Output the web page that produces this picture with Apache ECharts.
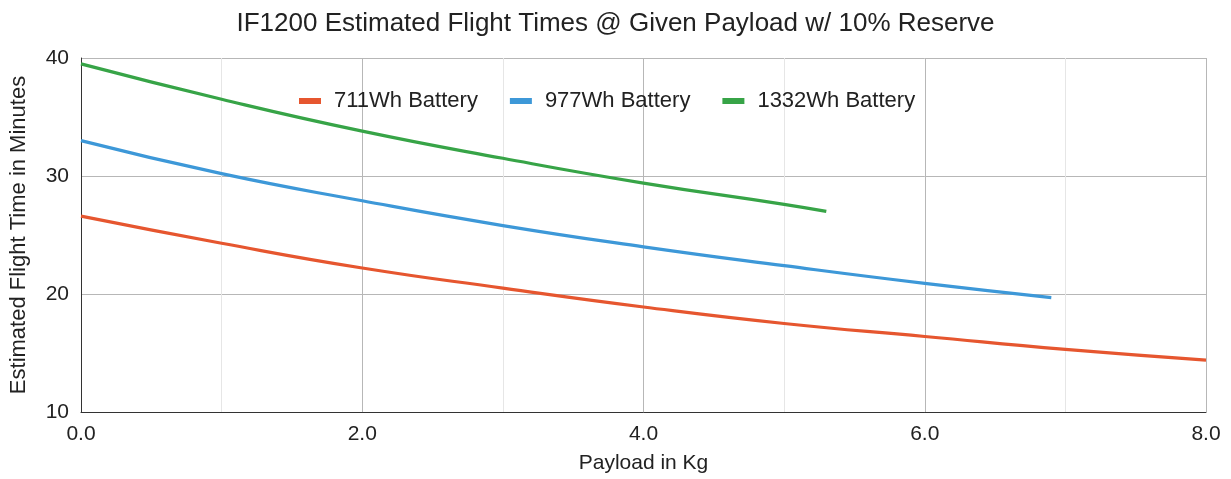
<!DOCTYPE html>
<html>
<head>
<meta charset="utf-8">
<script src="https://cdn.jsdelivr.net/npm/echarts@6/dist/echarts.min.js"></script>
<style>
  html, body { margin: 0; padding: 0; background: #fff; }
  #chart { width: 1231px; height: 479px; }
</style>
</head>
<body>
<div id="chart"></div>
<script>
// values
var seriesNames = ["711Wh Battery", "977Wh Battery", "1332Wh Battery"];
var payload711 = [0, 1, 2, 3, 4, 5, 6, 7, 8];
var time711 = [26.6, 24.3, 22.2, 20.5, 18.9, 17.5, 16.4, 15.3, 14.4];
var payload977 = [0, 1, 2, 3, 4, 5, 6, 6.9];
var time977 = [33.0, 30.2, 27.9, 25.8, 24.0, 22.4, 20.9, 19.7];
var payload1332 = [0, 1, 2, 3, 4, 5, 5.3];
var time1332 = [39.5, 36.5, 33.8, 31.5, 29.4, 27.6, 27.0];
var colors = ["#e6562f", "#3d98d8", "#37a447"];

function pairs(xs, ys) {
  return xs.map(function (x, i) {
    return [x, ys[i]];
  });
}

var chart = echarts.init(document.getElementById("chart"));
var font = "Liberation Sans, Arial, sans-serif";

function line(name, data, color) {
  return {
    name: name,
    type: "line",
    data: data,
    smooth: true,
    showSymbol: false,
    lineStyle: { width: 3.2, color: color },
    itemStyle: { color: color },
  };
}

var option = {
  animation: false,
  textStyle: { fontFamily: font },
  title: {
    text: "IF1200 Estimated Flight Times @ Given Payload w/ 10% Reserve",
    left: "center",
    top: 6,
    textStyle: { fontSize: 26, fontWeight: "normal", color: "#222", fontFamily: font },
  },
  legend: {
    top: 85,
    left: 294,
    icon: "rect",
    itemWidth: 22,
    itemHeight: 6,
    itemGap: 32,
    textStyle: { fontSize: 22, color: "#222", fontFamily: font, padding: [0, 0, 0, 8] },
    data: seriesNames,
  },
  grid: { left: 81, right: 25, top: 58, bottom: 65 },
  xAxis: {
    type: "value",
    min: 0,
    max: 8,
    interval: 2,
    name: "Payload in Kg",
    nameLocation: "middle",
    nameGap: 41,
    nameTextStyle: { fontSize: 21, color: "#222", fontFamily: font },
    axisLine: { show: true, lineStyle: { color: "#333", width: 1 } },
    axisTick: { show: false },
    axisLabel: {
      fontSize: 21,
      color: "#222",
      margin: 12,
      formatter: function (v) {
        return v.toFixed(1);
      },
    },
    splitLine: { show: true, lineStyle: { color: "#b7b7b7", width: 1 } },
    minorTick: { show: false, splitNumber: 2 },
    minorSplitLine: { show: true, lineStyle: { color: "#e6e6e6", width: 1 } },
  },
  yAxis: {
    type: "value",
    min: 10,
    max: 40,
    interval: 10,
    name: "Estimated Flight Time in Minutes",
    nameLocation: "middle",
    nameGap: 51,
    nameTextStyle: { fontSize: 22, color: "#222", fontFamily: font },
    axisLine: { show: true, lineStyle: { color: "#333", width: 1 } },
    axisTick: { show: false },
    axisLabel: { fontSize: 21, color: "#222", margin: 12 },
    splitLine: { show: true, lineStyle: { color: "#b7b7b7", width: 1 } },
  },
  series: [
    line(seriesNames[0], pairs(payload711, time711), colors[0]),
    line(seriesNames[1], pairs(payload977, time977), colors[1]),
    line(seriesNames[2], pairs(payload1332, time1332), colors[2]),
  ],
};
chart.setOption(option);
</script>
</body>
</html>
